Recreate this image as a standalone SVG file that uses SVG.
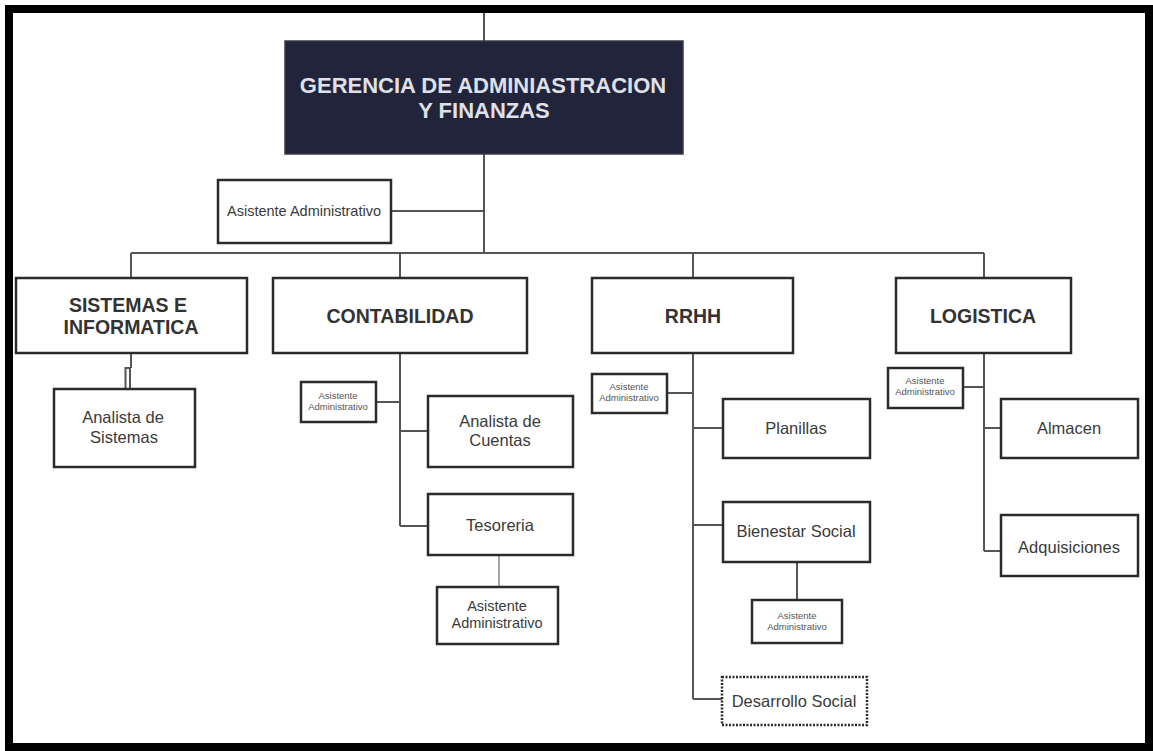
<svg xmlns="http://www.w3.org/2000/svg" width="1153" height="751" viewBox="0 0 1153 751">
  <style>
    .frame { fill: #ffffff; stroke: #000000; stroke-width: 8; }
    .box { fill: #ffffff; stroke: #2b2b2b; stroke-width: 2.5; }
    .dotted { fill: #ffffff; stroke: #2b2b2b; stroke-width: 2.5; stroke-dasharray: 2 1.5; }
    .head { fill: #22243c; stroke: #3a3a44; stroke-width: 1.5; }
    .link { fill: none; stroke: #555555; stroke-width: 2; }
    .thin { fill: none; stroke: #8a8a8a; stroke-width: 1.5; }
    text { font-family: "Liberation Sans", Arial, sans-serif; fill: #3a3a3a; text-anchor: middle; }
    .title { font-size: 22px; font-weight: bold; fill: #dfe0e8; }
    .dept { font-size: 19.5px; font-weight: bold; fill: #333333; }
    .lbl { font-size: 16.5px; }
    .mid { font-size: 14.5px; }
    .tiny { font-size: 9.5px; fill: #555555; }
  </style>

  <!-- outer frame -->
  <rect class="frame" x="9" y="9" width="1140" height="738"/>

  <!-- connectors -->
  <g id="connectors">
    <line class="link" x1="484" y1="13" x2="484" y2="41"/>
    <line class="link" x1="484" y1="154" x2="484" y2="253"/>
    <line class="link" x1="391" y1="211" x2="484" y2="211"/>
    <line class="link" x1="131" y1="253" x2="984" y2="253"/>
    <line class="link" x1="131" y1="253" x2="131" y2="278"/>
    <line class="link" x1="400" y1="253" x2="400" y2="278"/>
    <line class="link" x1="693" y1="253" x2="693" y2="278"/>
    <line class="link" x1="984" y1="253" x2="984" y2="278"/>

    <!-- Sistemas branch -->
    <line class="link" x1="131" y1="353" x2="131" y2="368"/>
    <rect class="link" x="125.5" y="368" width="4.5" height="21"/>

    <!-- Contabilidad branch -->
    <line class="link" x1="400" y1="353" x2="400" y2="526"/>
    <line class="link" x1="376" y1="402" x2="400" y2="402"/>
    <line class="link" x1="400" y1="431" x2="428" y2="431"/>
    <line class="link" x1="400" y1="526" x2="428" y2="526"/>
    <line class="thin" x1="499" y1="555" x2="499" y2="587"/>

    <!-- RRHH branch -->
    <line class="link" x1="693" y1="353" x2="693" y2="699"/>
    <line class="link" x1="667" y1="393" x2="693" y2="393"/>
    <line class="link" x1="693" y1="428" x2="723" y2="428"/>
    <line class="link" x1="693" y1="525" x2="723" y2="525"/>
    <line class="link" x1="797" y1="562" x2="797" y2="600"/>
    <line class="link" x1="693" y1="699" x2="722" y2="699"/>

    <!-- Logistica branch -->
    <line class="link" x1="984" y1="353" x2="984" y2="551"/>
    <line class="link" x1="963" y1="387" x2="984" y2="387"/>
    <line class="link" x1="984" y1="428" x2="1001" y2="428"/>
    <line class="link" x1="984" y1="551" x2="1001" y2="551"/>
  </g>

  <g id="gerencia">
    <rect class="head" x="285" y="41" width="398" height="113"/>
    <text class="title" x="483" y="93">GERENCIA DE ADMINIASTRACION</text>
    <text class="title" x="484" y="118">Y FINANZAS</text>
  </g>

  <g id="asistente-gerencia">
    <rect class="box" x="218" y="180" width="173" height="63"/>
    <text class="mid" x="304" y="216">Asistente Administrativo</text>
  </g>

  <g id="sistemas">
    <rect class="box" x="16" y="278" width="231" height="75"/>
    <text class="dept" x="128" y="312">SISTEMAS E</text>
    <text class="dept" x="131" y="334">INFORMATICA</text>
  </g>

  <g id="analista-sistemas">
    <rect class="box" x="54" y="389" width="141" height="78"/>
    <text class="lbl" x="123" y="423">Analista de</text>
    <text class="lbl" x="124" y="443">Sistemas</text>
  </g>

  <g id="contabilidad">
    <rect class="box" x="273" y="278" width="254" height="75"/>
    <text class="dept" x="400" y="323">CONTABILIDAD</text>
  </g>

  <g id="asistente-contabilidad">
    <rect class="box" x="301" y="382" width="75" height="40"/>
    <text class="tiny" x="338" y="399">Asistente</text>
    <text class="tiny" x="338" y="410">Administrativo</text>
  </g>

  <g id="analista-cuentas">
    <rect class="box" x="428" y="396" width="145" height="71"/>
    <text class="lbl" x="500" y="427">Analista de</text>
    <text class="lbl" x="500" y="446">Cuentas</text>
  </g>

  <g id="tesoreria">
    <rect class="box" x="428" y="494" width="145" height="61"/>
    <text class="lbl" x="500" y="531">Tesoreria</text>
  </g>

  <g id="asistente-tesoreria">
    <rect class="box" x="437" y="587" width="121" height="57"/>
    <text class="mid" x="497" y="611">Asistente</text>
    <text class="mid" x="497" y="628">Administrativo</text>
  </g>

  <g id="rrhh">
    <rect class="box" x="592" y="278" width="201" height="75"/>
    <text class="dept" x="693" y="323">RRHH</text>
  </g>

  <g id="asistente-rrhh">
    <rect class="box" x="592" y="374" width="75" height="39"/>
    <text class="tiny" x="629" y="390">Asistente</text>
    <text class="tiny" x="629" y="401">Administrativo</text>
  </g>

  <g id="planillas">
    <rect class="box" x="723" y="399" width="147" height="59"/>
    <text class="lbl" x="796" y="434">Planillas</text>
  </g>

  <g id="bienestar-social">
    <rect class="box" x="723" y="502" width="147" height="60"/>
    <text class="lbl" x="796" y="537">Bienestar Social</text>
  </g>

  <g id="asistente-bienestar">
    <rect class="box" x="752" y="600" width="90" height="43"/>
    <text class="tiny" x="797" y="619">Asistente</text>
    <text class="tiny" x="797" y="630">Administrativo</text>
  </g>

  <g id="desarrollo-social">
    <rect class="dotted" x="722" y="677" width="145" height="48"/>
    <text class="lbl" x="794" y="707">Desarrollo Social</text>
  </g>

  <g id="logistica">
    <rect class="box" x="896" y="278" width="175" height="75"/>
    <text class="dept" x="983" y="323">LOGISTICA</text>
  </g>

  <g id="asistente-logistica">
    <rect class="box" x="888" y="368" width="75" height="40"/>
    <text class="tiny" x="925" y="384">Asistente</text>
    <text class="tiny" x="925" y="395">Administrativo</text>
  </g>

  <g id="almacen">
    <rect class="box" x="1001" y="399" width="137" height="59"/>
    <text class="lbl" x="1069" y="434">Almacen</text>
  </g>

  <g id="adquisiciones">
    <rect class="box" x="1001" y="515" width="137" height="61"/>
    <text class="lbl" x="1069" y="553">Adquisiciones</text>
  </g>
</svg>
